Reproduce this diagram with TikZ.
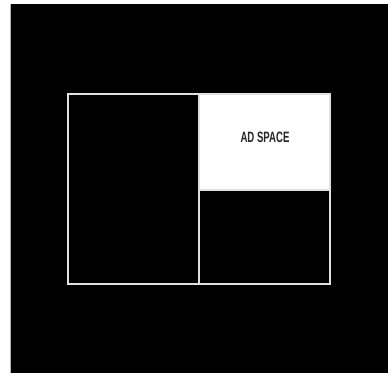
\documentclass[tikz,border=0pt]{standalone}
\usepackage{fontspec}
\newfontfamily\adfont{Liberation Sans}
\begin{document}
\begin{tikzpicture}[x=1pt,y=-1pt,
  panel/.style={draw=white!88!black,line width=1.6pt,inner sep=0pt,outer sep=0pt},
  adtext/.style={font=\adfont\bfseries\fontsize{15}{15}\selectfont,text=black!85}]
\useasboundingbox (0,0) rectangle (392,381);
\fill[white] (0,0) rectangle (392,381);
\fill[black] (11,4) rectangle (388,373);
\draw[gray!60,line width=0.8pt] (10.5,4) -- (10.5,373);
\node[panel,fill=black,minimum width=131pt,minimum height=190pt,anchor=north west] (left) at (68,94) {};
\node[panel,fill=white,minimum width=131pt,minimum height=96pt,anchor=north west] (ad) at (199,94) {};
\node[panel,fill=black,minimum width=131pt,minimum height=94pt,anchor=north west] (low) at (199,190) {};
\node[adtext] (adlabel) at (265,137) {\scalebox{0.64}[1]{AD SPACE}};
\end{tikzpicture}
\end{document}
